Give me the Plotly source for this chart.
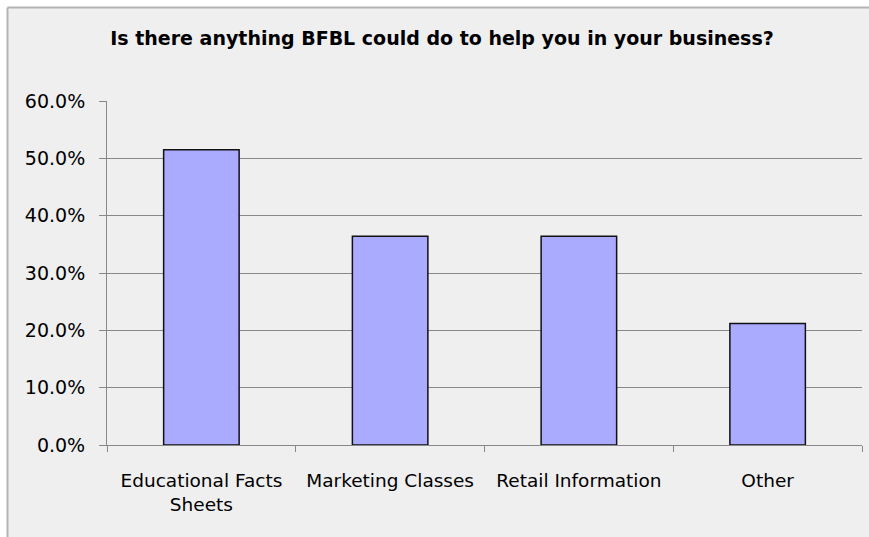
import plotly.graph_objects as go

categories = ["Educational Facts<br>Sheets", "Marketing Classes", "Retail Information", "Other"]
values = [0.515, 0.364, 0.364, 0.212]
y_ticks = [0.0, 0.1, 0.2, 0.3, 0.4, 0.5, 0.6]
title_text = "Is there anything BFBL could do to help you in your business?"

W, H = 869, 537
L, R, T, B = 107, 7, 101, 92
pw, ph = W - L - R, H - T - B

def px2x(px):
    return (px - L) / pw

def py2y(py):
    return (H - B - py) / ph

fig = go.Figure()
fig.add_trace(go.Bar(
    x=categories, y=values,
    marker=dict(color="#aaaaff", line=dict(color="#111111", width=1.5)),
    hoverinfo="skip",
))

shapes = [
    dict(type="rect", xref="paper", yref="paper", layer="below",
         x0=px2x(7.5), x1=px2x(W + 20), y0=py2y(H + 20), y1=py2y(7.5),
         fillcolor="#efefef", line=dict(width=0)),
    dict(type="line", xref="paper", yref="paper",
         x0=px2x(7.5), x1=px2x(W + 20), y0=py2y(7.5), y1=py2y(7.5),
         line=dict(color="#b4b4b4", width=2)),
    dict(type="line", xref="paper", yref="paper",
         x0=px2x(7.5), x1=px2x(7.5), y0=py2y(H + 20), y1=py2y(7.5),
         line=dict(color="#b4b4b4", width=2)),
]

fig.update_layout(
    width=W, height=H,
    margin=dict(l=L, r=R, t=T, b=B, pad=0),
    paper_bgcolor="white",
    plot_bgcolor="rgba(0,0,0,0)",
    bargap=0.6,
    showlegend=False,
    shapes=shapes,
    title=dict(text="<b>" + title_text + "</b>", x=442 / W, xanchor="center",
               y=1 - 38 / H, yanchor="middle",
               font=dict(family="DejaVu Sans", size=19, color="#000000")),
    font=dict(family="DejaVu Sans", size=18.5, color="#000000"),
)
fig.update_xaxes(
    showline=True, linecolor="#888888", linewidth=1,
    ticks="outside", tickson="boundaries", ticklen=6, tickcolor="#888888",
    showgrid=False, ticklabelstandoff=19,
    tickfont=dict(family="DejaVu Sans", size=18.5, color="#000000"),
)
fig.update_yaxes(
    range=[0, 0.6], tickvals=y_ticks, tickformat=".1%",
    showline=True, linecolor="#888888", linewidth=1,
    ticks="outside", ticklen=7, tickcolor="#888888",
    showgrid=True, gridcolor="#888888", gridwidth=1,
    zeroline=False, ticklabelstandoff=10,
    tickfont=dict(family="DejaVu Sans", size=19, color="#000000"),
)

fig.write_html("out.html")
